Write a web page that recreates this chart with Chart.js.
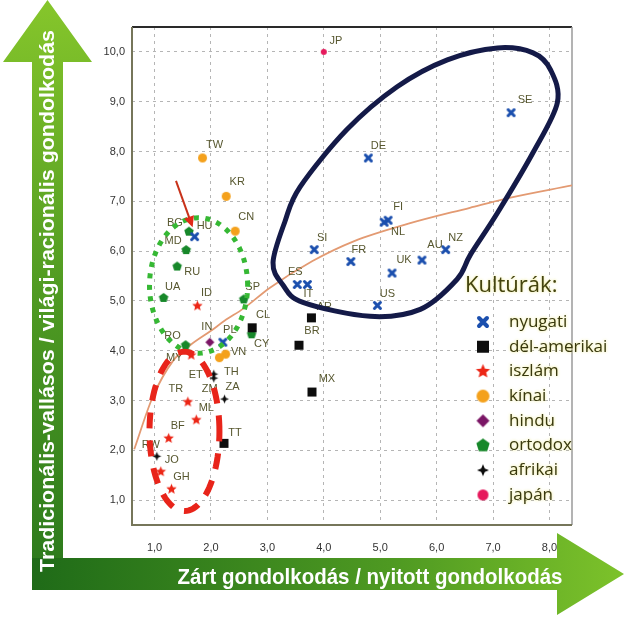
<!DOCTYPE html>
<html><head><meta charset="utf-8">
<script src="https://cdn.jsdelivr.net/npm/chart.js@4.4.1/dist/chart.umd.min.js"></script>
<style>html,body{margin:0;padding:0;background:#fff;}#wrap{width:640px;height:617px;}</style>
</head><body><div id="wrap"><canvas id="c" width="640" height="617"></canvas></div>
<script>
// ---------------- DATA ----------------
const categories = ['nyugati','dél-amerikai','iszlám','kínai','hindu','ortodox','afrikai','japán'];

const nyugatiCodes = ['SE','DE','FI','NL','SI','FR','UK','AU','NZ','ES','IT','US','HU','PL'];
const nyugatiX = [7.32,4.79,5.14,5.07,3.83,4.48,5.21,5.74,6.16,3.53,3.71,4.95,1.71,2.21];
const nyugatiY = [8.78,7.87,6.62,6.58,6.03,5.79,5.56,5.82,6.03,5.33,5.33,4.91,6.29,4.17];

const delamerikaiCodes = ['CL','AR','BR','MX','TT'];
const delamerikaiX = [2.73,3.78,3.56,3.79,2.23];
const delamerikaiY = [4.46,4.66,4.11,3.17,2.14];

const iszlamCodes = ['ID','MY','TR','ML','BF','JO','GH'];
const iszlamX = [1.76,1.65,1.59,1.74,1.25,1.11,1.30];
const iszlamY = [4.90,3.91,2.97,2.61,2.24,1.57,1.22];

const kinaiCodes = ['TW','KR','CN','VN','TH'];
const kinaiX = [1.85,2.27,2.43,2.26,2.15];
const kinaiY = [7.87,7.10,6.40,3.93,3.86];

const hinduCodes = ['IN'];
const hinduX = [1.98];
const hinduY = [4.17];

const ortodoxCodes = ['BG','MD','RU','UA','SP','CY','RO'];
const ortodoxX = [1.61,1.56,1.40,1.16,2.58,2.72,1.55];
const ortodoxY = [6.39,6.02,5.69,5.06,5.03,4.33,4.11];

const afrikaiCodes = ['ET','ZM','ZA','RW'];
const afrikaiX = [2.05,2.05,2.24,1.04];
const afrikaiY = [3.53,3.45,3.03,1.88];

const japanCodes = ['JP'];
const japanX = [4.0];
const japanY = [10.0];

// trend curve
const trendX = [0.64,0.96,1.33,1.62,2.0,2.24,2.58,3.04,3.8,4.54,5.5,6.59,7.25,8.4];
const trendY = [2.02,3.05,3.80,4.10,4.40,4.60,4.85,5.26,5.80,6.20,6.55,6.87,7.06,7.32];

// navy outline around the western group
const navyX = [7.08,7.71,8.02,8.14,7.71,7.08,6.60,6.36,5.71,4.82,3.63,3.27,3.10,3.31,3.58,4.41,5.30,6.19];
const navyY = [10.08,9.98,9.64,8.98,7.98,6.77,5.93,5.43,4.83,4.69,4.97,5.33,5.77,6.59,7.29,8.44,9.30,9.84];

// ellipses: [centerX, centerY, radiusX, radiusY]
const greenEllipse = [1.78, 5.31, 0.87, 1.36];
const redEllipse = [1.53, 2.38, 0.62, 1.60];
// red arrow: from [x,y] to [x,y]
const redArrow = [[1.38, 7.41], [1.675, 6.48]];

const xTickValues = [1,2,3,4,5,6,7,8];
const yTickValues = [1,2,3,4,5,6,7,8,9,10];

const xTitle = 'Zárt gondolkodás / nyitott gondolkodás';
const yTitle = 'Tradicionális-vallásos / világi-racionális gondolkodás';
const legendTitle = 'Kultúrák:';

// ---------------- STYLES ----------------
const seriesData = [
  [nyugatiCodes, nyugatiX, nyugatiY],
  [delamerikaiCodes, delamerikaiX, delamerikaiY],
  [iszlamCodes, iszlamX, iszlamY],
  [kinaiCodes, kinaiX, kinaiY],
  [hinduCodes, hinduX, hinduY],
  [ortodoxCodes, ortodoxX, ortodoxY],
  [afrikaiCodes, afrikaiX, afrikaiY],
  [japanCodes, japanX, japanY]
];
const markerStyle = [
  ['x','#1b4fae',9,12],
  ['square','#0d0d0d',9,12],
  ['star','#ec2616',11,15],
  ['circle','#f4a11c',9,13],
  ['diamond','#7a1565',9,13],
  ['pentagon','#17882a',10,14],
  ['afr','#0d0d0d',9,12],
  ['circle','#e6195c',6,11]
];
const labelOffsets = {
  JP:[12,-11], TW:[12,-13], KR:[11,-14], CN:[11,-14], BG:[-14,-9], HU:[10,-11], MD:[-13,-9],
  RU:[15,5], UA:[9,-11], ID:[9,-13], SP:[9,-12], CL:[11,-13], CY:[10,10], IN:[-3,-15], PL:[7,-12],
  RO:[-13,-9], VN:[13,-2], MY:[-17,3], ET:[-18,1], TH:[12,14], ZM:[-4,11], ZA:[8,-12], TR:[-12,-13],
  ML:[10,-12], BF:[9,-12], TT:[11,-10], RW:[-6,-11], JO:[11,-12], GH:[10,-12], SE:[14,-13],
  DE:[10,-12], FI:[10,-13], NL:[14,10], SI:[8,-12], FR:[8,-12], UK:[12,-13], AU:[13,-15],
  NZ:[10,-12], ES:[-2,-12], IT:[1,10], AR:[13,-11], US:[10,-11], BR:[13,-14], MX:[15,-13]
};

function makeMarker(kind, color, size){
  const pad = 4, n = Math.ceil(size + pad*2);
  const cv = document.createElement('canvas'); cv.width = n; cv.height = n;
  const g = cv.getContext('2d'); const c = n/2, r = size/2;
  g.fillStyle = color; g.strokeStyle = color;
  g.beginPath();
  if (kind === 'x') {
    const lw = size*0.34, q = r - lw/2;
    g.lineWidth = lw; g.lineCap = 'round';
    g.moveTo(c-q,c-q); g.lineTo(c+q,c+q); g.moveTo(c+q,c-q); g.lineTo(c-q,c+q); g.stroke();
    return cv;
  } else if (kind === 'square') {
    g.rect(c-r,c-r,size,size);
  } else if (kind === 'circle') {
    g.arc(c,c,r,0,Math.PI*2);
  } else if (kind === 'diamond') {
    g.moveTo(c,c-r); g.lineTo(c+r,c); g.lineTo(c,c+r); g.lineTo(c-r,c);
  } else if (kind === 'star' || kind === 'afr') {
    const pts = kind === 'star' ? 5 : 4, inner = kind === 'star' ? 0.45 : 0.42;
    for (let i=0;i<pts*2;i++){
      const a = -Math.PI/2 + i*Math.PI/pts, rr = i%2 ? r*inner : r;
      const px = c + rr*Math.cos(a), py = c + rr*Math.sin(a);
      i ? g.lineTo(px,py) : g.moveTo(px,py);
    }
  } else if (kind === 'pentagon') {
    for (let i=0;i<5;i++){
      const a = -Math.PI/2 + i*2*Math.PI/5;
      const px = c + r*Math.cos(a), py = c + r*Math.sin(a);
      i ? g.lineTo(px,py) : g.moveTo(px,py);
    }
  }
  g.closePath(); g.fill();
  return cv;
}

const chartMarkers = markerStyle.map(m => makeMarker(m[0], m[1], m[2]));
const legendMarkers = markerStyle.map(m => makeMarker(m[0], m[1], m[3]));

const fmt = v => Number(v).toFixed(1).replace('.', ',');

const datasets = [{
  label: 'trend',
  data: trendX.map((x,i)=>({x, y: trendY[i]})),
  showLine: true, borderColor: '#e39a72', borderWidth: 1.8, pointRadius: 0,
  tension: 0.4, cubicInterpolationMode: 'monotone', fill: false, order: 10
}];
categories.forEach((cat, i) => {
  const [codes, xs, ys] = seriesData[i];
  datasets.push({
    label: cat, codes,
    data: xs.map((x,j)=>({x, y: ys[j]})),
    pointStyle: chartMarkers[i], pointRadius: 5, pointHoverRadius: 5, order: 1
  });
});

// ---------------- DECORATION PLUGIN ----------------
function fitText(ctx, text, cx, cy, font, targetW, rot){
  ctx.save(); ctx.translate(cx, cy); ctx.rotate(rot); ctx.font = font;
  const w = ctx.measureText(text).width; ctx.scale(targetW / w, 1);
  ctx.textAlign = 'center'; ctx.textBaseline = 'middle'; ctx.fillStyle = '#ffffff';
  ctx.fillText(text, 0, 0); ctx.restore();
}

function closedSpline(ctx, pts){
  const n = pts.length;
  ctx.moveTo(pts[0][0], pts[0][1]);
  for (let i=0;i<n;i++){
    const p0 = pts[(i-1+n)%n], p1 = pts[i], p2 = pts[(i+1)%n], p3 = pts[(i+2)%n];
    ctx.bezierCurveTo(p1[0]+(p2[0]-p0[0])/6, p1[1]+(p2[1]-p0[1])/6,
                      p2[0]-(p3[0]-p1[0])/6, p2[1]-(p3[1]-p1[1])/6, p2[0], p2[1]);
  }
  ctx.closePath();
}

function ellipsePath(ctx, xs, ys, e){
  for (let k=0;k<=96;k++){
    const t = k/96*Math.PI*2;
    const px = xs.getPixelForValue(e[0] + e[2]*Math.cos(t));
    const py = ys.getPixelForValue(e[1] + e[3]*Math.sin(t));
    k ? ctx.lineTo(px,py) : ctx.moveTo(px,py);
  }
  ctx.closePath();
}

const decor = {
  id: 'decor',
  beforeDraw(chart){
    const ctx = chart.ctx, W = chart.width, H = chart.height, a = chart.chartArea;
    ctx.save();
    ctx.fillStyle = '#fff'; ctx.fillRect(0,0,W,H);
    // vertical arrow
    const sx0 = 32, sx1 = 63, cx = (sx0+sx1)/2, headB = 62, bandT = a.bottom + 33, bandB = a.bottom + 65;
    let g = ctx.createLinearGradient(0,0,0,bandB);
    g.addColorStop(0,'#86c62b'); g.addColorStop(0.5,'#4f9a22'); g.addColorStop(1,'#2a781c');
    ctx.fillStyle = g;
    ctx.beginPath(); ctx.moveTo(cx,0); ctx.lineTo(92,headB); ctx.lineTo(sx1,headB); ctx.lineTo(sx1,bandB);
    ctx.lineTo(sx0,bandB); ctx.lineTo(sx0,headB); ctx.lineTo(3,headB); ctx.closePath(); ctx.fill();
    // horizontal arrow
    const hx = a.right - 15, midY = (bandT+bandB)/2;
    g = ctx.createLinearGradient(sx0,0,W,0);
    g.addColorStop(0,'#1f6b18'); g.addColorStop(0.6,'#4f9a22'); g.addColorStop(1,'#80c52b');
    ctx.fillStyle = g;
    ctx.beginPath(); ctx.moveTo(sx0,bandT); ctx.lineTo(hx,bandT); ctx.lineTo(hx,midY-41); ctx.lineTo(W-16,midY);
    ctx.lineTo(hx,midY+41); ctx.lineTo(hx,bandB); ctx.lineTo(sx0,bandB); ctx.closePath(); ctx.fill();
    // titles
    fitText(ctx, yTitle, cx+1, 301, 'bold 20px "Liberation Sans", Arial, sans-serif', 542, -Math.PI/2);
    fitText(ctx, xTitle, 370, midY+4, 'bold 22px "Liberation Sans", Arial, sans-serif', 385, 0);
    ctx.restore();
  },
  beforeDatasetsDraw(chart){
    const ctx = chart.ctx, a = chart.chartArea;
    ctx.save(); ctx.lineWidth = 2;
    ctx.strokeStyle = '#2a2a2a'; ctx.beginPath(); ctx.moveTo(a.left,a.top); ctx.lineTo(a.right,a.top); ctx.stroke();
    ctx.strokeStyle = '#9a9a9a'; ctx.lineWidth = 1.5; ctx.beginPath(); ctx.moveTo(a.right,a.top); ctx.lineTo(a.right,a.bottom); ctx.stroke();
    ctx.strokeStyle = '#76765a'; ctx.lineWidth = 2; ctx.beginPath(); ctx.moveTo(a.left,a.top); ctx.lineTo(a.left,a.bottom); ctx.lineTo(a.right,a.bottom); ctx.stroke();
    ctx.restore();
  },
  afterDatasetsDraw(chart){
    const ctx = chart.ctx, xs = chart.scales.x, ys = chart.scales.y;
    ctx.save();
    // point labels
    ctx.font = '11px "Liberation Sans", Arial, sans-serif';
    ctx.textAlign = 'center'; ctx.textBaseline = 'middle'; ctx.fillStyle = '#57572f';
    chart.data.datasets.forEach((ds, i) => {
      if (!ds.codes) return;
      chart.getDatasetMeta(i).data.forEach((el, j) => {
        const code = ds.codes[j], off = labelOffsets[code] || [10,-12];
        ctx.fillText(code, el.x + off[0], el.y + off[1]);
      });
    });
    // navy outline
    ctx.beginPath();
    closedSpline(ctx, navyX.map((x,i)=>[xs.getPixelForValue(x), ys.getPixelForValue(navyY[i])]));
    ctx.strokeStyle = '#141a48'; ctx.lineWidth = 5; ctx.stroke();
    // green dotted ellipse
    ctx.beginPath(); ellipsePath(ctx, xs, ys, greenEllipse);
    ctx.strokeStyle = '#36b834'; ctx.lineWidth = 5; ctx.setLineDash([5,6.5]); ctx.stroke();
    // red dashed ellipse
    ctx.beginPath(); ellipsePath(ctx, xs, ys, redEllipse);
    ctx.strokeStyle = '#e8241a'; ctx.lineWidth = 6; ctx.setLineDash([16,12]); ctx.stroke();
    ctx.setLineDash([]);
    // red arrow
    const ax0 = xs.getPixelForValue(redArrow[0][0]), ay0 = ys.getPixelForValue(redArrow[0][1]);
    const ax1 = xs.getPixelForValue(redArrow[1][0]), ay1 = ys.getPixelForValue(redArrow[1][1]);
    const ang = Math.atan2(ay1-ay0, ax1-ax0);
    ctx.strokeStyle = '#c8321a'; ctx.fillStyle = '#e02a18'; ctx.lineWidth = 2;
    ctx.beginPath(); ctx.moveTo(ax0,ay0); ctx.lineTo(ax1 - 8*Math.cos(ang), ay1 - 8*Math.sin(ang)); ctx.stroke();
    ctx.beginPath(); ctx.moveTo(ax1,ay1);
    ctx.lineTo(ax1 - 12*Math.cos(ang-0.45), ay1 - 12*Math.sin(ang-0.45));
    ctx.lineTo(ax1 - 12*Math.cos(ang+0.45), ay1 - 12*Math.sin(ang+0.45));
    ctx.closePath(); ctx.fill();
    // legend
    ctx.shadowColor = 'rgba(235,230,110,0.9)'; ctx.shadowBlur = 3;
    ctx.textAlign = 'left'; ctx.fillStyle = '#43430f';
    ctx.font = '22px "Open Sans", sans-serif';
    ctx.fillText(legendTitle, 465, 286);
    ctx.font = '17px "Open Sans", sans-serif'; ctx.fillStyle = '#38380f';
    categories.forEach((cat, i) => {
      const y = 322 + i*24.7;
      ctx.shadowBlur = 0;
      const m = legendMarkers[i];
      ctx.drawImage(m, 483 - m.width/2, y - m.height/2);
      ctx.shadowBlur = 3;
      ctx.fillText(cat, 509, y);
    });
    ctx.restore();
  }
};

new Chart(document.getElementById('c'), {
  type: 'scatter',
  data: { datasets },
  options: {
    responsive: false, animation: false, devicePixelRatio: 1,
    layout: { padding: { left: 92, right: 68, top: 27, bottom: 62 } },
    plugins: { legend: { display: false }, tooltip: { enabled: false } },
    scales: {
      x: {
        type: 'linear', min: 0.6, max: 8.4,
        afterBuildTicks: s => { s.ticks = xTickValues.map(v => ({ value: v })); },
        afterFit: s => { s.height = 30; },
        grid: { color: '#b5b5b5', lineWidth: 1, drawTicks: false },
        border: { display: false, dash: [3,4] },
        ticks: { padding: 16, color: '#333', font: { family: 'Liberation Sans', size: 11 }, callback: v => fmt(v), maxRotation: 0 }
      },
      y: {
        type: 'linear', min: 0.5, max: 10.5,
        afterBuildTicks: s => { s.ticks = yTickValues.map(v => ({ value: v })); },
        afterFit: s => { s.width = 40; },
        grid: { color: '#b5b5b5', lineWidth: 1, drawTicks: false },
        border: { display: false, dash: [3,4] },
        ticks: { padding: 7, color: '#333', font: { family: 'Liberation Sans', size: 11 }, callback: v => fmt(v) }
      }
    }
  },
  plugins: [decor]
});
</script>
</body></html>
